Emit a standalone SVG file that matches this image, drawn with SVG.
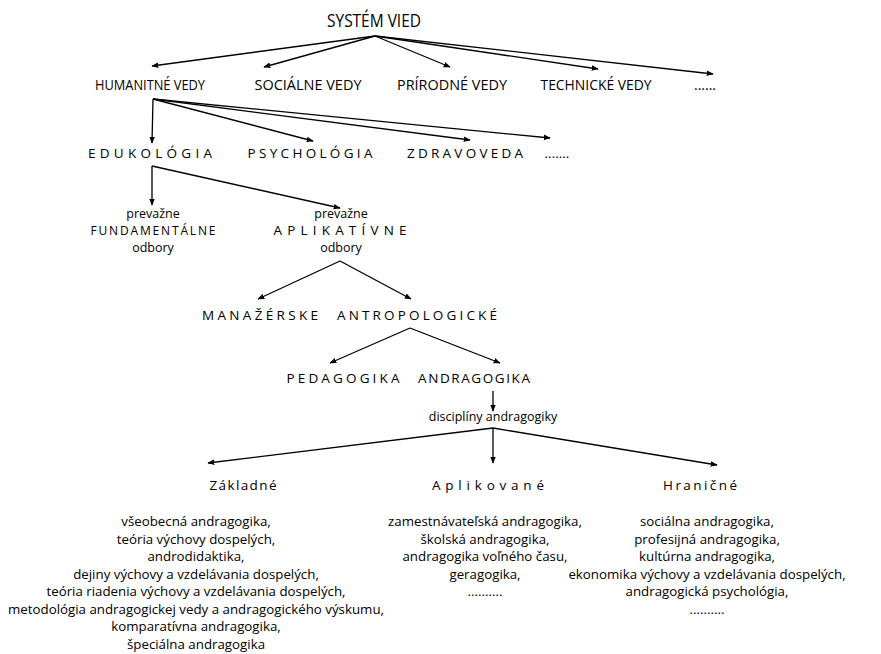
<svg xmlns="http://www.w3.org/2000/svg" width="881" height="654" viewBox="0 0 881 654">
<defs>
<marker id="ah" viewBox="0 0 10 10" refX="9" refY="5" markerWidth="7" markerHeight="7" markerUnits="userSpaceOnUse" orient="auto">
<path d="M0,1 L10,5 L0,9 Z" fill="#000"/>
</marker>
<style>
text{font-family:"Open Sans","Liberation Sans",sans-serif;fill:#000;text-anchor:middle}
.h{font-size:18px}
.r2{font-size:14px}
.sp{font-size:13.5px}
.sp2{font-size:12px}
.sm{font-size:12.5px}
.lst{font-size:13.3px}
.c line{stroke:#000;stroke-width:1.3;marker-end:url(#ah)}
</style>
</defs>
<rect width="881" height="654" fill="#fff"/>
<g class="c" id="connectors">
<line x1="375" y1="36" x2="152" y2="66"/>
<line x1="375" y1="36" x2="264" y2="67"/>
<line x1="375" y1="36" x2="450" y2="67"/>
<line x1="375" y1="36" x2="598" y2="69"/>
<line x1="375" y1="36" x2="713" y2="74"/>
<line x1="153" y1="99" x2="152" y2="143"/>
<line x1="153" y1="99" x2="313" y2="141"/>
<line x1="153" y1="99" x2="470" y2="140"/>
<line x1="153" y1="99" x2="550" y2="138"/>
<line x1="152" y1="166" x2="152" y2="205"/>
<line x1="152" y1="166" x2="340" y2="208"/>
<line x1="340" y1="261" x2="258" y2="299"/>
<line x1="340" y1="261" x2="411" y2="299"/>
<line x1="410" y1="328" x2="330" y2="363"/>
<line x1="410" y1="328" x2="500" y2="363"/>
<line x1="493" y1="391" x2="493" y2="411"/>
<line x1="493" y1="428" x2="208" y2="463"/>
<line x1="493" y1="428" x2="493" y2="463"/>
<line x1="493" y1="428" x2="717" y2="465"/>
</g>
<g id="system-vied"><text class="h" x="374" y="27" textLength="94" lengthAdjust="spacingAndGlyphs">SYSTÉM VIED</text></g>
<g id="humanitne"><text class="r2" x="150" y="90" textLength="110" lengthAdjust="spacingAndGlyphs">HUMANITNÉ VEDY</text></g>
<g id="socialne"><text class="r2" x="308" y="90" textLength="107" lengthAdjust="spacingAndGlyphs">SOCIÁLNE VEDY</text></g>
<g id="prirodne"><text class="r2" x="452" y="90" textLength="110" lengthAdjust="spacingAndGlyphs">PRÍRODNÉ VEDY</text></g>
<g id="technicke"><text class="r2" x="596" y="90" textLength="111" lengthAdjust="spacingAndGlyphs">TECHNICKÉ VEDY</text></g>
<g id="dots1"><text class="r2" x="705" y="90">......</text></g>
<g id="edukologia"><text class="sp" x="150" y="158" textLength="124" lengthAdjust="spacing">EDUKOLÓGIA</text></g>
<g id="psychologia"><text class="sp" x="310" y="158" textLength="125" lengthAdjust="spacing">PSYCHOLÓGIA</text></g>
<g id="zdravoveda"><text class="sp" x="465" y="158" textLength="116" lengthAdjust="spacing">ZDRAVOVEDA</text></g>
<g id="dots2"><text class="sp" x="557" y="158">.......</text></g>
<g id="fundamentalne">
<text class="sm" x="153" y="218">prevažne</text>
<text class="sp2" x="153" y="235" textLength="125" lengthAdjust="spacing">FUNDAMENTÁLNE</text>
<text class="sm" x="153" y="252">odbory</text>
</g>
<g id="aplikativne">
<text class="sm" x="341" y="218">prevažne</text>
<text class="sp" x="340" y="235" textLength="133" lengthAdjust="spacing">APLIKATÍVNE</text>
<text class="sm" x="341" y="252">odbory</text>
</g>
<g id="manazerske"><text class="sp" x="260" y="320" textLength="116" lengthAdjust="spacing">MANAŽÉRSKE</text></g>
<g id="antropologicke"><text class="sp" x="417" y="320" textLength="160" lengthAdjust="spacing">ANTROPOLOGICKÉ</text></g>
<g id="pedagogika"><text class="sp" x="343" y="383" textLength="113" lengthAdjust="spacing">PEDAGOGIKA</text></g>
<g id="andragogika"><text class="sp" x="474" y="383" textLength="112" lengthAdjust="spacing">ANDRAGOGIKA</text></g>
<g id="discipliny"><text class="sm" x="493" y="421">disciplíny andragogiky</text></g>
<g id="zakladne">
<text class="sp" x="243" y="490" textLength="67" lengthAdjust="spacing">Základné</text>
<text class="lst" x="196" y="526">všeobecná andragogika,</text>
<text class="lst" x="196" y="544">teória výchovy dospelých,</text>
<text class="lst" x="196" y="561">androdidaktika,</text>
<text class="lst" x="196" y="579">dejiny výchovy a vzdelávania dospelých,</text>
<text class="lst" x="196" y="596">teória riadenia výchovy a vzdelávania dospelých,</text>
<text class="lst" x="196" y="614">metodológia andragogickej vedy a andragogického výskumu,</text>
<text class="lst" x="196" y="631">komparatívna andragogika,</text>
<text class="lst" x="196" y="649">špeciálna andragogika</text>
</g>
<g id="aplikovane">
<text class="sp" x="488" y="490" textLength="112" lengthAdjust="spacing">Aplikované</text>
<text class="lst" x="485" y="526">zamestnávateľská andragogika,</text>
<text class="lst" x="485" y="544">školská andragogika,</text>
<text class="lst" x="485" y="561">andragogika voľného času,</text>
<text class="lst" x="485" y="579">geragogika,</text>
<text class="lst" x="485" y="596">..........</text>
</g>
<g id="hranicne">
<text class="sp" x="700" y="490" textLength="74" lengthAdjust="spacing">Hraničné</text>
<text class="lst" x="707" y="526">sociálna andragogika,</text>
<text class="lst" x="707" y="544">profesijná andragogika,</text>
<text class="lst" x="707" y="561">kultúrna andragogika,</text>
<text class="lst" x="707" y="579">ekonomika výchovy a vzdelávania dospelých,</text>
<text class="lst" x="707" y="596">andragogická psychológia,</text>
<text class="lst" x="707" y="614">..........</text>
</g>
</svg>
